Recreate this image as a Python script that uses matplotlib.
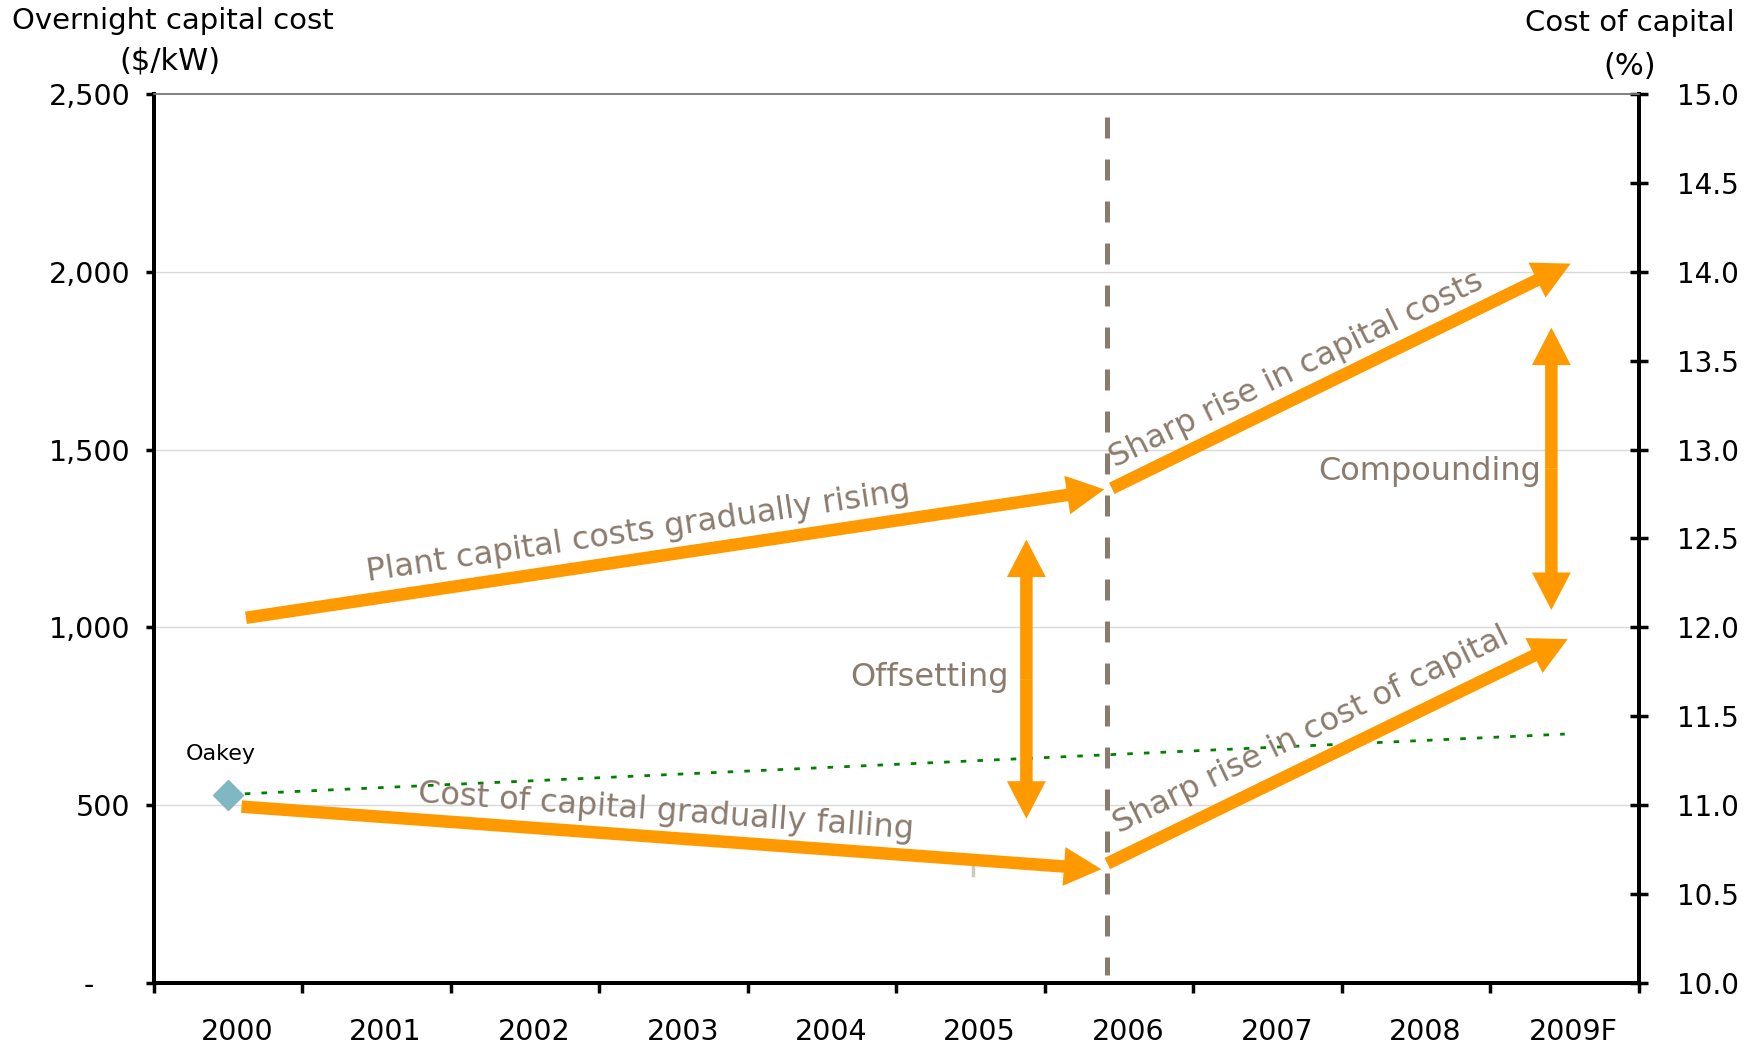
import matplotlib
matplotlib.use('Agg')
import matplotlib.pyplot as plt
import matplotlib.transforms as mtransforms
from matplotlib.ticker import FixedLocator, FuncFormatter

# Categorías y datos
years = ['2000', '2001', '2002', '2003', '2004', '2005', '2006', '2007', '2008', '2009F']
left_ticks = [0, 500, 1000, 1500, 2000, 2500]
left_labels = ['-    ', '500', '1,000', '1,500', '2,000', '2,500']
right_ticks = [10.0, 10.5, 11.0, 11.5, 12.0, 12.5, 13.0, 13.5, 14.0, 14.5, 15.0]

oakey_year = '2000'
oakey_cost = 530
trend_years = ['2000', '2009F']
trend_values = [530, 700]

# Flechas esquemáticas (x en unidades de categoría, y en $/kW)
plant_rise = ((0.12, 1027), (5.90, 1388))
capital_sharp = ((5.95, 1391), (9.04, 2023))
coc_fall = ((0.09, 496), (5.88, 320))
coc_sharp = ((5.92, 336), (9.02, 967))
offsetting = (5.375, 462, 1247)
compounding = (8.91, 1049, 1843)
divider_x = 5.92

ORANGE = '#FF9900'
BROWN = '#8B7B6D'

plt.rcParams['font.family'] = ['DejaVu Sans']

fig = plt.figure(figsize=(17.49, 10.5), dpi=100)
ax = fig.add_axes([0.0880, 0.0638, 0.9371 - 0.0880, 0.9105 - 0.0638])
ax2 = ax.twinx()

ax.set_xlim(-0.5, 9.5)
ax.set_ylim(0, 2500)
ax2.set_ylim(10, 15)

# Rejilla
for v in left_ticks[1:-1]:
    ax.axhline(v, color='#D9D9D9', lw=1, zorder=0)

# Ejes
for a in (ax, ax2):
    a.spines['top'].set_color('#808080')
    a.spines['top'].set_linewidth(1.2)
    for s in ('left', 'right', 'bottom'):
        a.spines[s].set_linewidth(2.8)
        a.spines[s].set_color('black')

ax.set_yticks(left_ticks)
ax.set_yticklabels(left_labels)
ax.tick_params(axis='y', direction='out', length=6, width=2.5, labelsize=20.5, pad=11)

ax.xaxis.set_major_locator(FixedLocator([i - 0.5 for i in range(len(years) + 1)]))
ax.xaxis.set_major_formatter(FuncFormatter(lambda v, p: ''))
ax.xaxis.set_minor_locator(FixedLocator(list(range(len(years)))))
ax.set_xticklabels(years, minor=True)
ax.tick_params(axis='x', which='major', direction='out', length=7, width=2.5)
ax.tick_params(axis='x', which='minor', length=0, labelsize=20.5, pad=25)
shift = mtransforms.ScaledTranslation(0.09, 0, fig.dpi_scale_trans)
for lab in ax.get_xticklabels(minor=True):
    lab.set_transform(lab.get_transform() + shift)

ax2.set_yticks(right_ticks)
ax2.yaxis.set_major_formatter(FuncFormatter(lambda v, p: f'{v:.1f}'))
ax2.tick_params(axis='y', direction='inout', length=13, width=2.5, labelsize=20, pad=21)

# Oakey y línea de tendencia
ox_i = years.index(oakey_year)
tx = [years.index(y) for y in trend_years]
ax.plot(tx, trend_values, color='#008000', lw=2, dashes=(2, 4), zorder=2)
ax.plot([ox_i], [oakey_cost], marker='D', markersize=15, color='#7FB8C2',
        markeredgecolor='#7FB8C2', zorder=4, clip_on=False)
ax.text(ox_i - 0.05, 643, 'Oakey', fontsize=16, ha='center', va='center', color='black')

# Línea divisoria (dibujada de arriba a abajo)
ax.plot([divider_x, divider_x], [2435, 22], color=BROWN, lw=3.6, dashes=(4.2, 4.2), zorder=3)

# Pequeña marca gris
ax.plot([5.015, 5.015], [304, 329], color='#CFC8BE', lw=2.5, zorder=2)

style = 'simple,head_width=28,head_length=27,tail_width=9'


def arrow(p0, p1):
    ax.annotate('', xy=p1, xytext=p0,
                arrowprops=dict(arrowstyle=style, mutation_scale=1, color=ORANGE,
                                lw=0, shrinkA=0, shrinkB=0), zorder=5)


for a in (plant_rise, capital_sharp, coc_fall, coc_sharp):
    arrow(a[0], a[1])

for x, y0, y1 in (offsetting, compounding):
    mid = (y0 + y1) / 2
    arrow((x, mid), (x, y1))
    arrow((x, mid), (x, y0))

# Textos
tk = dict(fontsize=23, color=BROWN, ha='center', va='center', rotation_mode='anchor')
ax.text(2.76, 1268, 'Plant capital costs gradually rising', rotation=8.5, **tk)
ax.text(7.19, 1724, 'Sharp rise in capital costs', rotation=26, **tk)
ax.text(2.95, 481, 'Cost of capital gradually falling', rotation=-4.2, **tk)
ax.text(7.29, 709, 'Sharp rise in cost of capital', rotation=26, **tk)
ax.text(4.72, 860, 'Offsetting', **tk)
ax.text(8.09, 1437, 'Compounding', **tk)

# Títulos de ejes
fig.text(12 / 1749, 1 - 29 / 1050, 'Overnight capital cost', fontsize=21, ha='left', va='baseline')
fig.text(170 / 1749, 1 - 69 / 1050, '($/kW)', fontsize=22, ha='center', va='baseline')
fig.text(1735 / 1749, 1 - 31 / 1050, 'Cost of capital', fontsize=21, ha='right', va='baseline')
fig.text(1630 / 1749, 1 - 75 / 1050, '(%)', fontsize=22, ha='center', va='baseline')

fig.savefig('out.png', dpi=100)
